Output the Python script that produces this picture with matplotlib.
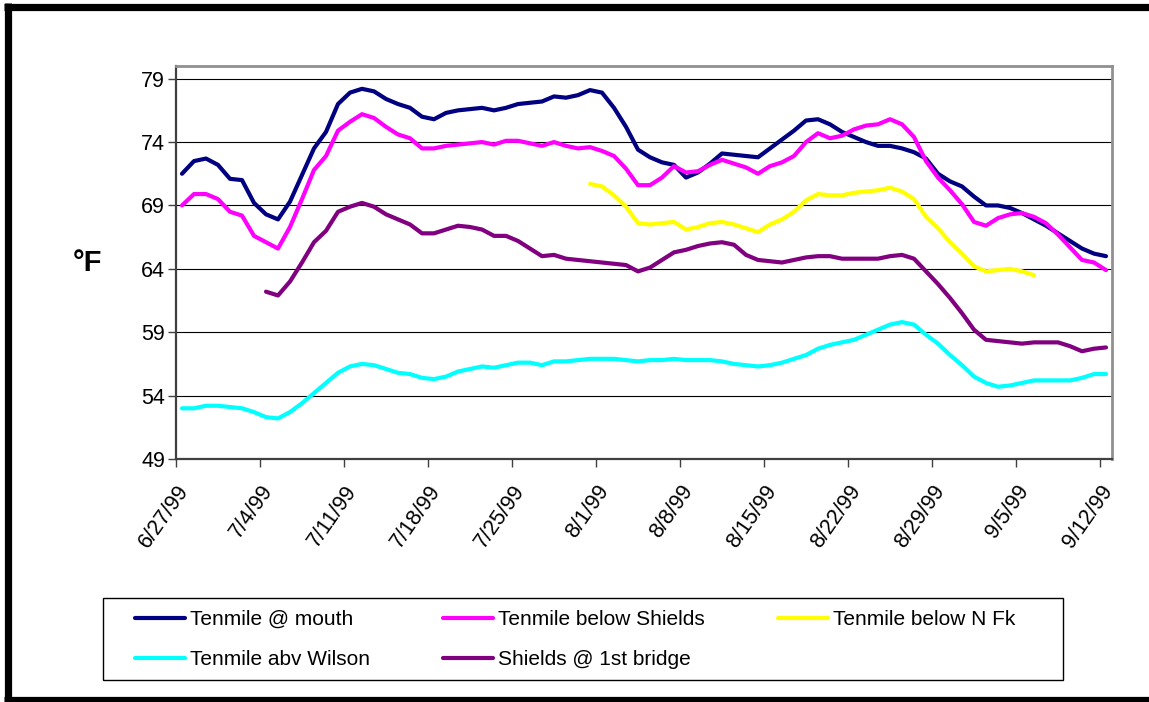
import numpy as np
import matplotlib
matplotlib.use('Agg')
import matplotlib.pyplot as plt
from matplotlib.lines import Line2D
from matplotlib.patches import Rectangle

plt.rcParams['font.family'] = ['Liberation Sans', 'DejaVu Sans']

# daily water temperatures (deg F), 6/27/99 .. 9/12/99
dates = np.arange('1999-06-27', '1999-09-13', dtype='datetime64[D]')
nan = np.nan

mouth = [71.5, 72.5, 72.7, 72.2, 71.1, 71.0, 69.2, 68.3, 67.9, 69.3,
         71.4, 73.5, 74.8, 77.0, 77.9, 78.2, 78.0, 77.4, 77.0, 76.7,
         76.0, 75.8, 76.3, 76.5, 76.6, 76.7, 76.5, 76.7, 77.0, 77.1,
         77.2, 77.6, 77.5, 77.7, 78.1, 77.9, 76.7, 75.2, 73.4, 72.8,
         72.4, 72.2, 71.2, 71.6, 72.3, 73.1, 73.0, 72.9, 72.8, 73.5,
         74.2, 74.9, 75.7, 75.8, 75.4, 74.8, 74.4, 74.0, 73.7, 73.7,
         73.5, 73.2, 72.7, 71.5, 70.9, 70.5, 69.7, 69.0, 69.0, 68.8,
         68.4, 67.9, 67.4, 66.8, 66.2, 65.6, 65.2, 65.0]
shields = [69.0, 69.9, 69.9, 69.5, 68.5, 68.2, 66.6, 66.1, 65.6, 67.3,
           69.5, 71.8, 72.9, 74.9, 75.6, 76.2, 75.9, 75.2, 74.6, 74.3,
           73.5, 73.5, 73.7, 73.8, 73.9, 74.0, 73.8, 74.1, 74.1, 73.9,
           73.7, 74.0, 73.7, 73.5, 73.6, 73.3, 72.9, 71.9, 70.6, 70.6,
           71.2, 72.1, 71.6, 71.7, 72.2, 72.6, 72.3, 72.0, 71.5, 72.1,
           72.4, 72.9, 74.0, 74.7, 74.3, 74.5, 75.0, 75.3, 75.4, 75.8,
           75.4, 74.4, 72.5, 71.2, 70.2, 69.1, 67.7, 67.4, 68.0, 68.3,
           68.4, 68.1, 67.6, 66.7, 65.7, 64.7, 64.5, 63.9]
nfk = [nan] * 34 + [
       70.7, 70.5, 69.8, 68.9, 67.6, 67.5, 67.6, 67.7, 67.1, 67.3,
       67.6, 67.7, 67.5, 67.2, 66.9, 67.5, 67.9, 68.5, 69.4, 69.9,
       69.8, 69.8, 70.0, 70.1, 70.2, 70.4, 70.1, 69.5, 68.1, 67.2,
       66.1, 65.2, 64.2, 63.8, 63.9, 64.0, 63.8, 63.5] + [nan] * 6
wilson = [53.0, 53.0, 53.2, 53.2, 53.1, 53.0, 52.7, 52.3, 52.2, 52.7,
          53.4, 54.2, 55.0, 55.8, 56.3, 56.5, 56.4, 56.1, 55.8, 55.7,
          55.4, 55.3, 55.5, 55.9, 56.1, 56.3, 56.2, 56.4, 56.6, 56.6,
          56.4, 56.7, 56.7, 56.8, 56.9, 56.9, 56.9, 56.8, 56.7, 56.8,
          56.8, 56.9, 56.8, 56.8, 56.8, 56.7, 56.5, 56.4, 56.3, 56.4,
          56.6, 56.9, 57.2, 57.7, 58.0, 58.2, 58.4, 58.8, 59.2, 59.6,
          59.8, 59.6, 58.8, 58.1, 57.2, 56.4, 55.5, 55.0, 54.7, 54.8,
          55.0, 55.2, 55.2, 55.2, 55.2, 55.4, 55.7, 55.7]
bridge = [nan] * 7 + [
          62.2, 61.9, 63.0, 64.5, 66.1, 67.0, 68.5, 68.9, 69.2, 68.9,
          68.3, 67.9, 67.5, 66.8, 66.8, 67.1, 67.4, 67.3, 67.1, 66.6,
          66.6, 66.2, 65.6, 65.0, 65.1, 64.8, 64.7, 64.6, 64.5, 64.4,
          64.3, 63.8, 64.1, 64.7, 65.3, 65.5, 65.8, 66.0, 66.1, 65.9,
          65.1, 64.7, 64.6, 64.5, 64.7, 64.9, 65.0, 65.0, 64.8, 64.8,
          64.8, 64.8, 65.0, 65.1, 64.8, 63.8, 62.8, 61.7, 60.5, 59.2,
          58.4, 58.3, 58.2, 58.1, 58.2, 58.2, 58.2, 57.9, 57.5, 57.7,
          57.8]

series = [('Tenmile @ mouth', mouth, '#000080'),
          ('Tenmile below Shields', shields, '#FF00FF'),
          ('Tenmile below N Fk', nfk, '#FFFF00'),
          ('Tenmile abv Wilson', wilson, '#00FFFF'),
          ('Shields @ 1st bridge', bridge, '#800080')]

fig = plt.figure(figsize=(11.49, 7.02), dpi=100)
ax = fig.add_axes([176 / 1149, 1 - 459 / 702, 936 / 1149, 393 / 702])

# points sit in the middle of each day slot, like an Excel date axis
xpts = dates.astype('datetime64[h]') + np.timedelta64(12, 'h')
lines = {}
for name, vals, col in series:
    lines[name], = ax.plot(xpts, np.array(vals, dtype=float), color=col, lw=3,
                           solid_joinstyle='round', solid_capstyle='round')

ax.set_ylim(49, 80)
ax.set_yticks(np.arange(49, 80, 5))
ax.set_xlim(dates[0], dates[-1] + np.timedelta64(1, 'D'))
ticks = dates[::7]
ax.set_xticks(ticks)
ax.set_xticklabels(['{}/{}/99'.format(int(str(t)[5:7]), int(str(t)[8:10])) for t in ticks],
                   rotation=55, ha='right', va='top', rotation_mode='anchor')
ax.tick_params(axis='both', direction='out', length=6, width=1, color='#404040',
               labelsize=15.5, pad=2)
ax.tick_params(axis='x', pad=10)
ax.grid(axis='y', color='#000000', lw=0.8)
ax.set_axisbelow(True)
for s in ['left', 'bottom']:
    ax.spines[s].set_color('#404040')
    ax.spines[s].set_linewidth(1.6)
for s in ['top', 'right']:
    ax.spines[s].set_color('#909090')
    ax.spines[s].set_linewidth(2)

fig.text(88 / 1149, 1 - 263 / 702, '°F', fontsize=21, fontweight='bold',
         ha='center', va='center')

order = ['Tenmile @ mouth', 'Tenmile abv Wilson', 'Tenmile below Shields',
         'Shields @ 1st bridge', 'Tenmile below N Fk']
leg = fig.legend([lines[n] for n in order], order, ncol=3, loc='upper left',
                 bbox_to_anchor=(135 / 1149, 1 - 610 / 702), fontsize=15,
                 frameon=False, handlelength=2.4, handletextpad=0.25,
                 columnspacing=3.5, labelspacing=1.0, borderpad=0,
                 borderaxespad=0)

# legend box as drawn by the spreadsheet (wider on the right than the entries)
fig.add_artist(Rectangle((103 / 1149, 1 - 680 / 702), 960 / 1149, 82 / 702,
                         transform=fig.transFigure, fill=False,
                         edgecolor='black', lw=1))

# outer chart frame (top, left, bottom)
for xs, ys in [([4 / 1149, 1.0], [1 - 6.5 / 702] * 2),
               ([7.5 / 1149] * 2, [1 - 3 / 702, 1 - 701 / 702]),
               ([4 / 1149, 1.0], [1 - 699.5 / 702] * 2)]:
    fig.add_artist(Line2D(xs, ys, color='black', lw=5.2, transform=fig.transFigure,
                          solid_capstyle='butt'))

fig.savefig('out.png', dpi=100, facecolor='white')
